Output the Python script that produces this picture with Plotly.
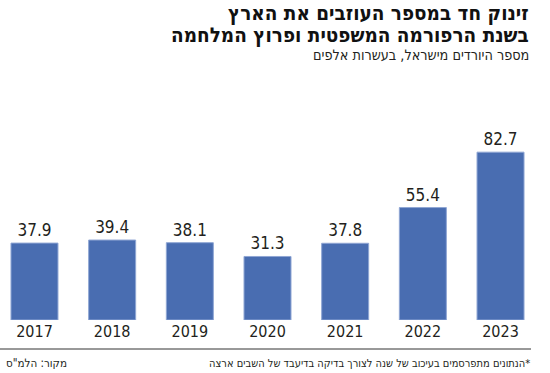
import plotly.graph_objects as go

years = ["2017", "2018", "2019", "2020", "2021", "2022", "2023"]
values = [37.9, 39.4, 38.1, 31.3, 37.8, 55.4, 82.7]
value_labels = ["37.9", "39.4", "38.1", "31.3", "37.8", "55.4", "82.7"]

title_line1 = "זינוק חד במספר העוזבים את הארץ"
title_line2 = "בשנת הרפורמה המשפטית ופרוץ המלחמה"
subtitle = "מספר היורדים מישראל, בעשרות אלפים"
footnote = "\u200f*הנתונים מתפרסמים בעיכוב של שנה לצורך בדיקה בדיעבד של השבים ארצה"
source = "מקור: הלמ\"ס"

BAR = "#496db1"
TXT = "#231f20"
NARROW = "DejaVu Sans Condensed, DejaVu Sans, sans-serif"

fig = go.Figure()
fig.add_trace(go.Bar(
    x=list(range(len(years))), y=values,
    marker=dict(color=BAR, line=dict(color="#8fa6d4", width=1)),
    width=0.605,
    text=value_labels, textposition="outside",
    textfont=dict(family=NARROW, size=17, color=TXT),
    cliponaxis=False,
    hoverinfo="skip",
))

fig.update_layout(
    width=550, height=373,
    margin=dict(l=0, r=0, t=100, b=53),
    paper_bgcolor="white", plot_bgcolor="white",
    showlegend=False,
    xaxis=dict(range=[-0.444, 6.637], tickmode="array",
               tickvals=list(range(len(years))), ticktext=years,
               showgrid=False, zeroline=False, showline=False, ticks="",
               automargin=False,
               tickfont=dict(family=NARROW, size=16, color=TXT)),
    yaxis=dict(range=[0, 108.4], visible=False, showgrid=False, zeroline=False),
)

fig.add_annotation(text="<b>" + title_line1 + "</b>", xref="paper", yref="paper",
                   x=531/550, y=1 + (100 - 13) / 220, xanchor="right", yanchor="middle",
                   showarrow=False, font=dict(family=NARROW, size=20.5, color="#111"))
fig.add_annotation(text="<b>" + title_line2 + "</b>", xref="paper", yref="paper",
                   x=531/550, y=1 + (100 - 35) / 220, xanchor="right", yanchor="middle",
                   showarrow=False, font=dict(family=NARROW, size=20.5, color="#111"))
fig.add_annotation(text=subtitle, xref="paper", yref="paper",
                   x=531/550, y=1 + (100 - 55) / 220, xanchor="right", yanchor="middle",
                   showarrow=False, font=dict(family=NARROW, size=14.3, color=TXT))
fig.add_annotation(text=footnote, xref="paper", yref="paper",
                   x=532/550, y=-(363 - 320) / 220, xanchor="right", yanchor="middle",
                   showarrow=False, font=dict(family=NARROW, size=11, color=TXT))
fig.add_annotation(text=source, xref="paper", yref="paper",
                   x=4/550, y=-(363 - 320) / 220, xanchor="left", yanchor="middle",
                   showarrow=False, font=dict(family=NARROW, size=11.5, color=TXT))
fig.add_shape(type="line", xref="paper", yref="paper",
              x0=0, x1=531/550, y0=-(349 - 320) / 220, y1=-(349 - 320) / 220,
              line=dict(color="#333", width=1))

fig.write_html("out.html", config={"displayModeBar": False, "staticPlot": True},
               post_script="document.body.style.margin='0';")
